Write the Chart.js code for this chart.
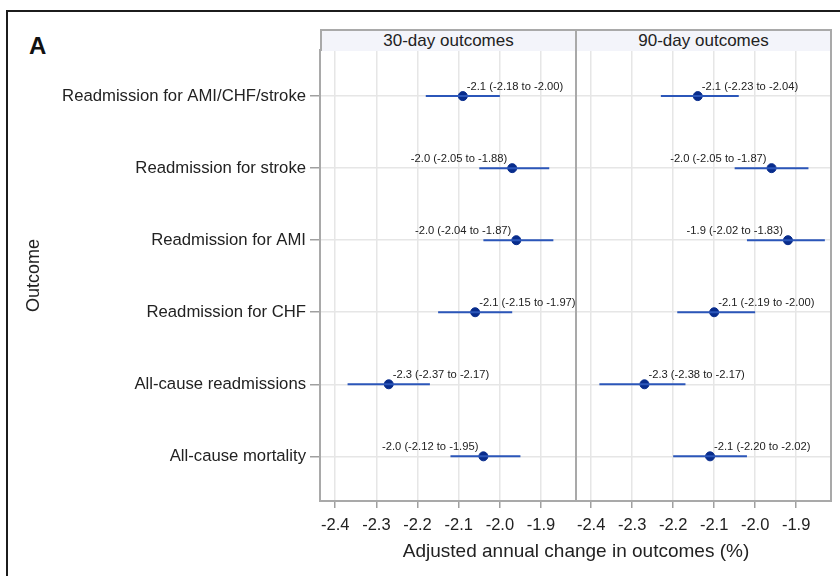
<!DOCTYPE html>
<html>
<head>
<meta charset="utf-8">
<script src="https://cdn.jsdelivr.net/npm/chart.js@4.4.1/dist/chart.umd.min.js"></script>
<style>
  body { margin: 0; background: #fff; font-family: 'Liberation Sans', Arial, sans-serif; color: #222; }
  #wrap { position: relative; width: 840px; height: 576px; overflow: hidden; }
  #wrap canvas { position: absolute; left: 0; top: 0; }
  .frame { position: absolute; left: 6px; top: 10px; width: 900px; height: 700px;
           border-left: 2px solid #1c1c1c; border-top: 2px solid #1c1c1c; }
  .tag { position: absolute; left: 29px; top: 32px; font-size: 24px; font-weight: bold; color: #111; }
  .head { position: absolute; top: 29px; height: 22px; box-sizing: border-box;
          border: 2px solid #a9a9a9; border-bottom: none; background: #f3f4fa;
          font-size: 17px; line-height: 20px; text-align: center; color: #222; }
  .xtitle { position: absolute; left: 326px; width: 500px; top: 540px; text-align: center; font-size: 19px; color: #222; }
</style>
</head>
<body>
<div id="wrap">
  <div class="frame"></div>
  <div class="tag">A</div>
  <canvas id="left" width="840" height="576"></canvas>
  <canvas id="right" width="840" height="576"></canvas>
  <div class="head" style="left:320px;width:257px;">30-day outcomes</div>
  <div class="head" style="left:575px;width:257px;">90-day outcomes</div>
  <div class="xtitle">Adjusted annual change in outcomes (%)</div>
</div>
<script>
// ==========================================
// DATA
// ==========================================

const outcomes = [
    'Readmission for AMI/CHF/stroke',
    'Readmission for stroke',
    'Readmission for AMI',
    'Readmission for CHF',
    'All-cause readmissions',
    'All-cause mortality'
];

const xTicks = [-2.4, -2.3, -2.2, -2.1, -2.0, -1.9];

// 30-day outcomes
const est30 = [-2.09, -1.97, -1.96, -2.06, -2.27, -2.04];
const lo30  = [-2.18, -2.05, -2.04, -2.15, -2.37, -2.12];
const hi30  = [-2.00, -1.88, -1.87, -1.97, -2.17, -1.95];

// 90-day outcomes
const est90 = [-2.14, -1.96, -1.92, -2.10, -2.27, -2.11];
const lo90  = [-2.23, -2.05, -2.02, -2.19, -2.38, -2.20];
const hi90  = [-2.04, -1.87, -1.83, -2.00, -2.17, -2.02];

// which side of the point each label sits on
const side30 = ['right', 'left', 'left', 'right', 'right', 'left'];
const side90 = ['right', 'left', 'left', 'right', 'right', 'right'];

// ==========================================
// HELPERS
// ==========================================

const FONT = "'Liberation Sans', Arial, sans-serif";

function ciPoints(lo, hi) {
    const pts = [];
    lo.forEach((v, i) => {
        pts.push({ x: v, y: i });
        pts.push({ x: hi[i], y: i });
        pts.push({ x: hi[i], y: null });
    });
    return pts;
}

function fmt(v, d) {
    return v.toFixed(d);
}

const frameAndLabels = {
    id: 'frameAndLabels',
    afterDatasetsDraw(chart, args, opts) {
        const ctx = chart.ctx;
        const xs = chart.scales.x;
        const ys = chart.scales.y;
        ctx.save();
        ctx.font = '11.2px ' + FONT;
        ctx.fillStyle = '#222';
        ctx.textBaseline = 'middle';
        opts.est.forEach((v, i) => {
            const px = xs.getPixelForValue(v);
            const py = ys.getPixelForValue(i);
            const txt = fmt(v, 1) + ' (' + fmt(opts.lo[i], 2) + ' to ' + fmt(opts.hi[i], 2) + ')';
            if (opts.side[i] === 'right') {
                ctx.textAlign = 'left';
                ctx.fillText(txt, px + 4, py - 9);
            } else {
                ctx.textAlign = 'right';
                ctx.fillText(txt, px - 5, py - 9);
            }
        });
        const a = chart.chartArea;
        ctx.strokeStyle = '#a9a9a9';
        ctx.lineWidth = 2;
        ctx.strokeRect(a.left, a.top, a.right - a.left, a.bottom - a.top);
        ctx.restore();
    }
};

function makePanel(canvasId, est, lo, hi, side, isLeft) {

    return new Chart(document.getElementById(canvasId), {

        type: 'scatter',

        data: {
            datasets: [{
                type: 'line',
                data: ciPoints(lo, hi),
                borderColor: '#2b56b9',
                borderWidth: 2,
                pointRadius: 0,
                spanGaps: false
            }, {
                data: est.map((v, i) => ({ x: v, y: i })),
                backgroundColor: '#082c8c',
                borderColor: '#082c8c',
                pointRadius: 4.5
            }]
        },

        options: {
            responsive: false,
            animation: false,
            layout: {
                padding: isLeft
                    ? { left: 0, top: 50, right: 264, bottom: 0 }
                    : { left: 576, top: 50, right: 9, bottom: 0 }
            },
            plugins: {
                legend: { display: false },
                tooltip: { enabled: false },
                frameAndLabels: { est: est, lo: lo, hi: hi, side: side }
            },
            scales: {
                x: {
                    type: 'linear',
                    min: -2.437,
                    max: -1.815,
                    afterBuildTicks: s => { s.ticks = xTicks.map(v => ({ value: v })); },
                    afterFit: s => { s.height = 75; },
                    ticks: {
                        color: '#222',
                        font: { family: FONT, size: 16.5 },
                        padding: 8,
                        maxRotation: 0,
                        callback: v => fmt(v, 1)
                    },
                    grid: {
                        color: '#e6e6e6',
                        lineWidth: 1.5,
                        tickColor: '#a0a0a0',
                        tickLength: 7
                    },
                    border: { display: false }
                },
                y: {
                    type: 'linear',
                    reverse: true,
                    min: -0.64,
                    max: 5.62,
                    afterBuildTicks: s => { s.ticks = outcomes.map((_, i) => ({ value: i })); },
                    afterFit: s => { s.width = isLeft ? 320 : 0; },
                    ticks: {
                        display: isLeft,
                        color: '#222',
                        font: { family: FONT, size: 16.7 },
                        padding: 4,
                        callback: v => outcomes[v]
                    },
                    grid: {
                        color: '#e6e6e6',
                        lineWidth: 1.5,
                        drawTicks: isLeft,
                        tickColor: '#a0a0a0',
                        tickLength: 10
                    },
                    border: { display: false },
                    title: {
                        display: isLeft,
                        text: 'Outcome',
                        color: '#222',
                        font: { family: FONT, size: 18 },
                        padding: { top: 23 }
                    }
                }
            }
        },

        plugins: [frameAndLabels]
    });
}

makePanel('left', est30, lo30, hi30, side30, true);
makePanel('right', est90, lo90, hi90, side90, false);
</script>
</body>
</html>
